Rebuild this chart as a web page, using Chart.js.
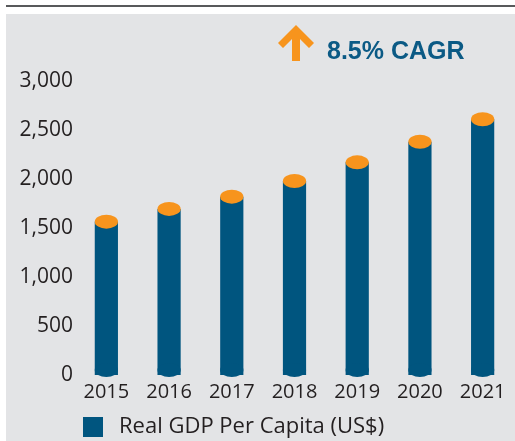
<!DOCTYPE html>
<html>
<head>
<meta charset="utf-8">
<script src="https://cdn.jsdelivr.net/npm/chart.js@4/dist/chart.umd.min.js"></script>
<style>
  html, body { margin: 0; padding: 0; background: #fff; }
  #wrap { width: 515px; height: 441px; position: relative; }
</style>
</head>
<body>
<div id="wrap"><canvas id="gdpChart"></canvas></div>
<script>
const years = ["2015", "2016", "2017", "2018", "2019", "2020", "2021"];
const gdpPerCapita = [1565, 1695, 1820, 1980, 2170, 2380, 2610];
const seriesLabel = "Real GDP Per Capita (US$)";
const cagrLabel = "8.5% CAGR";

const BLUE = "#00557f";
const ORANGE = "#f7941d";
const PANEL = "#e3e4e6";
const INK = "#231f20";
const FONT = { family: "'Open Sans', sans-serif", size: 20, weight: "400" };

// grey panel + rule line at the top
const panelBg = {
  id: "panelBg",
  beforeDraw(chart) {
    const ctx = chart.ctx;
    ctx.save();
    ctx.fillStyle = "#fff";
    ctx.fillRect(0, 0, chart.width, chart.height);
    ctx.fillStyle = "#58595b";
    ctx.fillRect(6, 5, chart.width - 6, 2);
    ctx.fillStyle = PANEL;
    ctx.fillRect(6, 14, chart.width - 6, chart.height - 14);
    ctx.restore();
  }
};

// round bottoms and orange lids on the bars
const cylinders = {
  id: "cylinders",
  afterDatasetsDraw(chart) {
    const ctx = chart.ctx;
    const meta = chart.getDatasetMeta(0);
    ctx.save();
    meta.data.forEach(bar => {
      const p = bar.getProps(["x", "y", "base", "width"], true);
      const rx = p.width / 2, ry = 7;
      ctx.fillStyle = BLUE;
      ctx.beginPath();
      ctx.ellipse(p.x, p.base - 5, rx, ry, 0, 0, Math.PI * 2);
      ctx.fill();
      ctx.fillStyle = ORANGE;
      ctx.beginPath();
      ctx.ellipse(p.x, p.y, rx, ry, 0, 0, Math.PI * 2);
      ctx.fill();
    });
    ctx.restore();
  }
};

// arrow + CAGR note
const cagrNote = {
  id: "cagrNote",
  afterDraw(chart) {
    const ctx = chart.ctx;
    const cx = 296;
    ctx.save();
    ctx.fillStyle = ORANGE;
    ctx.beginPath();
    ctx.moveTo(cx, 25);
    ctx.lineTo(cx + 18, 43);
    ctx.lineTo(cx + 13, 48);
    ctx.lineTo(cx + 4, 39);
    ctx.lineTo(cx + 4, 61);
    ctx.lineTo(cx - 4, 61);
    ctx.lineTo(cx - 4, 39);
    ctx.lineTo(cx - 13, 48);
    ctx.lineTo(cx - 18, 43);
    ctx.closePath();
    ctx.fill();
    ctx.fillStyle = "#0b5a85";
    ctx.font = "bold 25px 'Liberation Sans', Arial, sans-serif";
    ctx.textBaseline = "alphabetic";
    ctx.textAlign = "left";
    ctx.fillText(cagrLabel, 327, 59);
    ctx.restore();
  }
};

const ctx = document.getElementById("gdpChart");
new Chart(ctx, {
  type: "bar",
  data: {
    labels: years,
    datasets: [{
      label: seriesLabel,
      data: gdpPerCapita,
      backgroundColor: BLUE,
      borderWidth: 0,
      barPercentage: 0.37,
      categoryPercentage: 1
    }]
  },
  options: {
    responsive: true,
    maintainAspectRatio: false,
    animation: false,
    layout: { padding: { top: 81, left: 17, right: 1, bottom: 0 } },
    plugins: {
      tooltip: { enabled: false },
      legend: {
        position: "bottom",
        align: "start",
        fullSize: false,
        maxHeight: 32,
        labels: {
          boxWidth: 30,
          boxHeight: 30,
          padding: 3,
          color: INK,
          font: { ...FONT, size: 22 },
          // thick panel-coloured border trims the swatch to 20px and widens the text gap
          generateLabels(chart) {
            const items = Chart.defaults.plugins.legend.labels.generateLabels(chart);
            items.forEach(it => { it.lineWidth = 10; it.strokeStyle = PANEL; });
            return items;
          }
        }
      }
    },
    scales: {
      x: {
        afterFit(scale) { scale.height = 34; },
        grid: { display: false, drawTicks: false },
        border: { display: false },
        ticks: { color: INK, padding: 5, font: FONT }
      },
      y: {
        min: 0,
        max: 3000,
        afterFit(scale) { scale.width = 58; },
        grid: { display: false, drawTicks: false },
        border: { display: false },
        ticks: {
          stepSize: 500,
          color: INK,
          padding: 2,
          font: { ...FONT, size: 21 },
          callback: v => v.toLocaleString("en-US")
        }
      }
    }
  },
  plugins: [panelBg, cylinders, cagrNote]
});
</script>
</body>
</html>
